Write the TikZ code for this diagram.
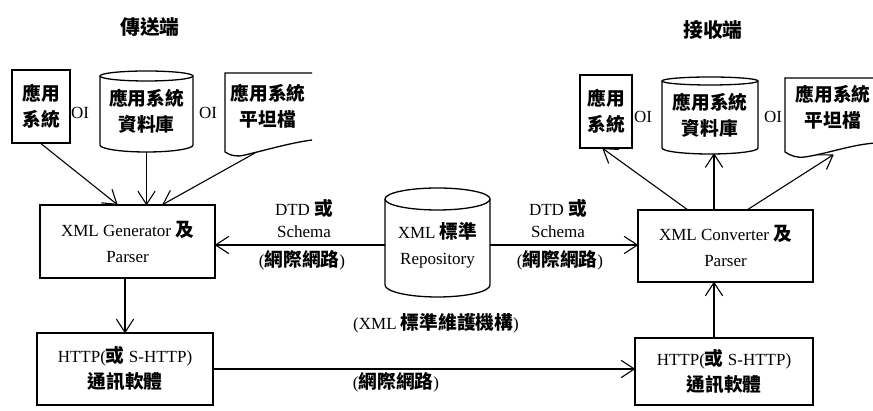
\documentclass[tikz,border=0pt]{standalone}
\usepackage{fontspec}
\setmainfont{Liberation Serif}
\newfontfamily\cjk[Scale=1.1]{Noto Sans CJK TC}
\newcommand\C[1]{{\cjk\bfseries #1}}
\usetikzlibrary{decorations.markings}
\begin{document}
\begin{tikzpicture}[x=1pt,y=1pt,
  shp/.style={draw,line width=1.3pt},
  txt/.style={font=\fontsize{17}{26}\selectfont,align=center,inner sep=0pt},
  box/.style={shp,txt},
  title/.style={font=\fontsize{18}{22}\selectfont,inner sep=0pt},
  arr/.style={line width=1.1pt,postaction={decorate},
    decoration={markings,mark=at position 1 with {\draw[line width=1.1pt,line join=round,line cap=round] (-13pt,8.5pt) -- (0pt,0pt) -- (-13pt,-8.5pt);}}}]
\useasboundingbox (0,0) rectangle (873,411);

% titles
\node[title] (tS) at (150,384) {\C{傳送端}};
\node[title] (tR) at (713,381) {\C{接收端}};

% ---------- left (sender) ----------
\node[box,minimum width=58pt,minimum height=73pt] (appL) at (41,304.5) {\C{應用}\\\C{系統}};
\node[txt] (oi1) at (80,298) {OI};
\draw[shp] (100,335) -- (100,266) arc[start angle=180,end angle=360,x radius=46.5,y radius=7] -- (193,335);
\draw[shp] (146.5,335) ellipse [x radius=46.5,y radius=5];
\node[txt,minimum width=93pt,minimum height=81pt] (cylL) at (146.5,299.5) {\C{應用系統}\\\C{資料庫}};
\node[txt] (oi2) at (208,298) {OI};
\draw[shp] (312,338) -- (225,338) -- (225,259) .. controls (231,255) and (237,254) .. (245,256) .. controls (270,262) and (290,268) .. (312,271);
\node[txt] (docL) at (268,305) {\C{應用系統}\\\C{平坦檔}};
\coordinate (docLb) at (255,258);

\node[box,minimum width=175pt,minimum height=73pt] (gen) at (127.5,169.5) {XML Generator \C{及}\\Parser};
\node[box,minimum width=176pt,minimum height=72pt] (httpL) at (125,42) {HTTP(\C{或} S-HTTP)\\\C{通訊軟體}};

\draw[arr] (appL.south) -- ([xshift=-10.5pt]gen.north);
\draw[arr] (cylL.south) -- (cylL.south |- gen.north);
\draw[arr] (docLb) -- ([xshift=35.5pt]gen.north);
\draw[arr] (gen.south -| httpL.north) -- (httpL.north);

% ---------- center ----------
\draw[shp] (385,212) -- (385,126) arc[start angle=180,end angle=360,x radius=52.5,y radius=12] -- (490,212);
\draw[shp] (437.5,212) ellipse [x radius=52.5,y radius=11];
\node[txt,minimum width=105pt] (cylC) at (437.5,166) {XML \C{標準}\\Repository};
\node[txt] (capC) at (436,88) {(XML \C{標準維護機構})};

% ---------- right (receiver) ----------
\node[box,minimum width=52pt,minimum height=73pt] (appR) at (606,299.5) {\C{應用}\\\C{系統}};
\node[txt] (oi3) at (643,294) {OI};
\draw[shp] (662,330) -- (662,263) arc[start angle=180,end angle=360,x radius=48,y radius=6] -- (758,330);
\draw[shp] (710,330) ellipse [x radius=48,y radius=4];
\node[txt,minimum width=96pt,minimum height=78pt] (cylR) at (710,296) {\C{應用系統}\\\C{資料庫}};
\node[txt] (oi4) at (773,294) {OI};
\draw[shp] (875,333) -- (785,333) -- (785,259) .. controls (791,255) and (797,253) .. (805,254) .. controls (830,258) and (850,266) .. (875,268);
\node[txt] (docR) at (833,304) {\C{應用系統}\\\C{平坦檔}};
\coordinate (docRb) at (833,256);

\node[box,minimum width=175pt,minimum height=72pt] (conv) at (725.5,165) {XML Converter \C{及}\\Parser};
\node[box,minimum width=178pt,minimum height=67pt] (httpR) at (724,39.5) {HTTP(\C{或} S-HTTP)\\\C{通訊軟體}};

\draw[arr] ([xshift=-10pt]httpR.north) -- ([xshift=-10pt]httpR.north |- conv.south);
\draw[arr] ([xshift=-38.5pt]conv.north) -- ([xshift=-3pt]appR.south);
\draw[arr] ([xshift=4pt]cylR.south |- conv.north) -- ([xshift=4pt]cylR.south);
\draw[arr] ([xshift=22.5pt]conv.north) -- (docRb);

% ---------- links ----------
\draw[arr] (cylC.west) -- (cylC.west -| gen.east);
\draw[arr] (cylC.east) -- (cylC.east -| conv.west);
\draw[arr] (httpL.east) -- (httpL.east -| httpR.west);

\node[txt] (dL) at (304,203) {DTD \C{或}};
\node[txt] (sL) at (304,179) {Schema};
\node[txt] (nL) at (302,151) {(\C{網際網路})};
\node[txt] (dR) at (558,203) {DTD \C{或}};
\node[txt] (sR) at (558,179) {Schema};
\node[txt] (nR) at (560,151) {(\C{網際網路})};
\node[txt] (nB) at (396,29) {(\C{網際網路})};
\end{tikzpicture}
\end{document}
